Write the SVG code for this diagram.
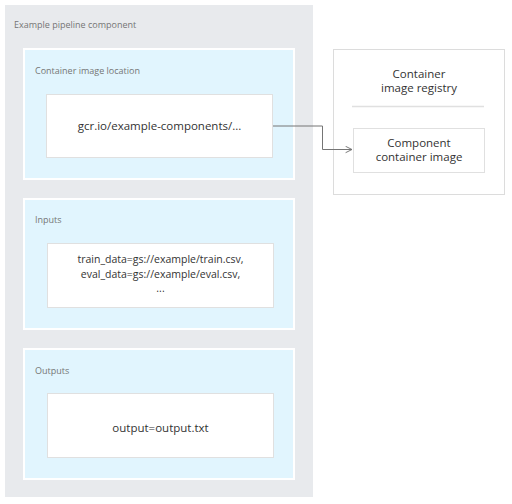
<svg xmlns="http://www.w3.org/2000/svg" width="512" height="504" viewBox="0 0 512 504">
<defs>
<style>
.outer{fill:#e8eaed;}
.sec{fill:#e1f5fe;stroke:#ffffff;stroke-width:2;}
.box{fill:#ffffff;stroke:#e0e0e0;stroke-width:1;}
.reg{fill:#ffffff;stroke:#dcdcdc;stroke-width:1;}
.lbl{font-family:"Open Sans","Noto Sans",sans-serif;font-size:9px;fill:#757575;}
.txt{font-family:"Open Sans","Noto Sans",sans-serif;font-size:11.5px;fill:#333333;text-anchor:middle;}
.sm{font-size:10.5px;}
.conn{fill:none;stroke:#757575;stroke-width:1;}
</style>
<marker id="arr" viewBox="0 0 10 10" refX="9" refY="5" markerWidth="8" markerHeight="8" markerUnits="userSpaceOnUse" orient="auto">
<path d="M1,1 L9,5 L1,9" fill="none" stroke="#757575" stroke-width="1.2"/>
</marker>
</defs>
<g id="pipeline-component">
<rect class="outer" x="5" y="5" width="308" height="492"/>
<text class="lbl" x="14" y="28">Example pipeline component</text>
</g>
<g id="container-image-location">
<rect class="sec" x="24" y="49" width="270" height="130"/>
<text class="lbl" x="35" y="74">Container image location</text>
<rect class="box" x="46.5" y="94.5" width="226" height="63"/>
<text class="txt" x="159.5" y="130">gcr.io/example-components/...</text>
</g>
<g id="inputs">
<rect class="sec" x="24" y="199" width="270" height="130"/>
<text class="lbl" x="35" y="223">Inputs</text>
<rect class="box" x="47.5" y="243.5" width="226" height="64"/>
<text class="txt sm" x="160.5" y="263">train_data=gs://example/train.csv,</text>
<text class="txt sm" x="160.5" y="277.5">eval_data=gs://example/eval.csv,</text>
<text class="txt sm" x="160.5" y="292">...</text>
</g>
<g id="outputs">
<rect class="sec" x="24" y="349" width="270" height="130"/>
<text class="lbl" x="35" y="374">Outputs</text>
<rect class="box" x="47.5" y="393.5" width="226" height="64"/>
<text class="txt" x="160.5" y="432">output=output.txt</text>
</g>
<g id="registry">
<rect class="reg" x="333.5" y="49.5" width="171" height="145"/>
<text class="txt" x="419" y="78">Container</text>
<text class="txt" x="419" y="92">image registry</text>
<line x1="352" y1="106.5" x2="484" y2="106.5" stroke="#e0e0e0" stroke-width="1.5"/>
</g>
<g id="component-image">
<rect class="box" x="353.5" y="128.5" width="131" height="44"/>
<text class="txt" x="419" y="147">Component</text>
<text class="txt" x="419" y="161">container image</text>
</g>
<g id="connectors">
<path class="conn" d="M273,126 H322.5 V149.5 H352" marker-end="url(#arr)"/>
</g>
</svg>
